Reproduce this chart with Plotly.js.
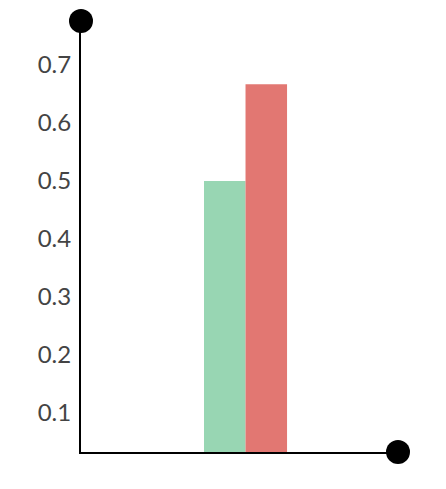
<!DOCTYPE html>
<html>
<head>
<meta charset="utf-8">
<script src="https://cdn.plot.ly/plotly-3.0.1.min.js"></script>
<style>html,body{margin:0;padding:0;background:#fff;}#chart{width:446px;height:489px;}</style>
</head>
<body>
<div id="chart"></div>
<script>
const categories = ["A"];
const seriesNames = ["Series 1", "Series 2"];
const series1 = [0.5];
const series2 = [0.667];
const tickValues = [0.1, 0.2, 0.3, 0.4, 0.5, 0.6, 0.7];
const tickLabels = ["0.1", "0.2", "0.3", "0.4", "0.5", "0.6", "0.7"];

const traces = [
  {type: "bar", name: seriesNames[0], x: categories, y: series1, marker: {color: "#98d6b3"}, hoverinfo: "none"},
  {type: "bar", name: seriesNames[1], x: categories, y: series2, marker: {color: "#e27772"}, hoverinfo: "none"}
];

const layout = {
  width: 446, height: 489,
  margin: {l: 81, r: 48, t: 21, b: 37, pad: 0},
  paper_bgcolor: "#fff", plot_bgcolor: "#fff",
  showlegend: false,
  barmode: "group",
  bargap: 0.738,
  bargroupgap: 0,
  font: {family: "Lato, 'Open Sans', sans-serif", size: 24, color: "#444"},
  xaxis: {
    type: "category",
    range: [-0.519, 0.481],
    showticklabels: false, ticks: "",
    showgrid: false, zeroline: false,
    showline: true, linecolor: "#000", linewidth: 2
  },
  yaxis: {
    range: [0.0328, 0.776],
    tickvals: tickValues, ticktext: tickLabels,
    ticks: "", ticklabelstandoff: 3,
    showgrid: false, zeroline: false,
    showline: true, linecolor: "#000", linewidth: 2,
    tickfont: {family: "Lato, 'Open Sans', sans-serif", size: 24, color: "#444"}
  },
  shapes: [
    {type: "circle", xref: "x domain", yref: "y domain", xsizemode: "pixel", ysizemode: "pixel",
     xanchor: 0, yanchor: 1, x0: -12, x1: 12, y0: -12, y1: 12, fillcolor: "#000", line: {width: 0}, layer: "above"},
    {type: "circle", xref: "x domain", yref: "y domain", xsizemode: "pixel", ysizemode: "pixel",
     xanchor: 1, yanchor: 0, x0: -12, x1: 12, y0: -12, y1: 12, fillcolor: "#000", line: {width: 0}, layer: "above"}
  ]
};

Plotly.newPlot("chart", traces, layout, {displayModeBar: false, staticPlot: true});
</script>
</body>
</html>
